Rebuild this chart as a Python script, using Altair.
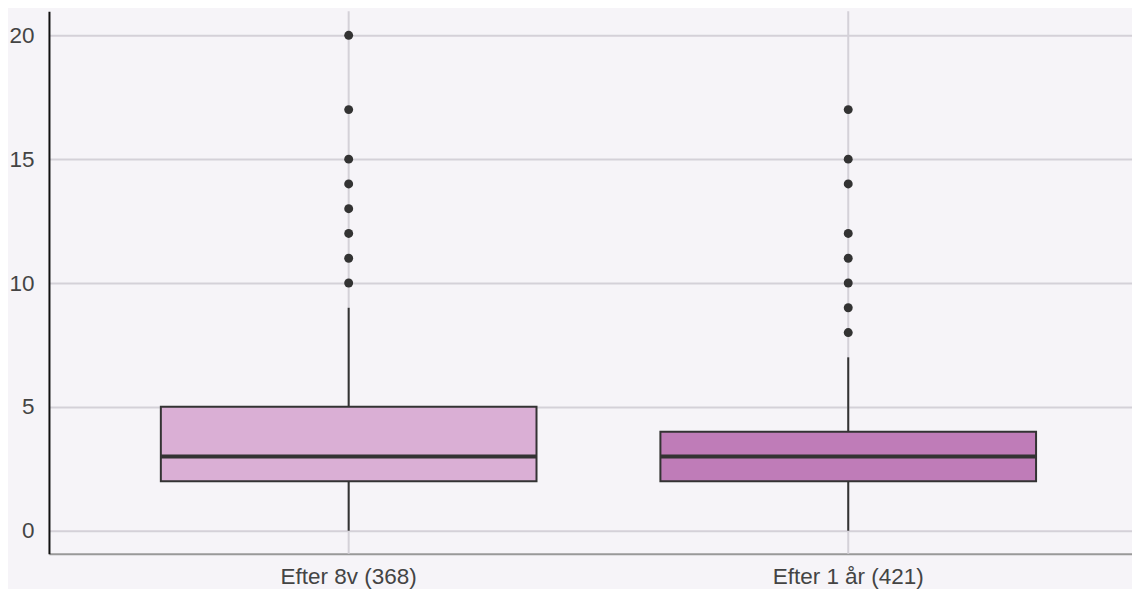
import altair as alt
import pandas as pd

categories = ["Efter 8v (368)", "Efter 1 år (421)"]
fills = ["#daafd5", "#bf7cb8"]
whisker_low = [0, 0]
q1 = [2, 2]
median = [3, 3]
q3 = [5, 4]
whisker_high = [9, 7]
outliers_1 = [10, 11, 12, 13, 14, 15, 17, 20]
outliers_2 = [8, 9, 10, 11, 12, 14, 15, 17]

summary = pd.DataFrame({
    "group": categories,
    "fill": fills,
    "low": whisker_low,
    "q1": q1,
    "median": median,
    "q3": q3,
    "high": whisker_high,
})
outl = pd.DataFrame({
    "group": [categories[0]] * len(outliers_1) + [categories[1]] * len(outliers_2),
    "value": outliers_1 + outliers_2,
})

DARK = "#333333"

xenc = alt.X(
    "group:N",
    sort=categories,
    title=None,
    scale=alt.Scale(paddingInner=0, paddingOuter=0.084, align=0.595),
    axis=alt.Axis(
        labelAngle=0, labelFontSize=22.5, labelColor="#444444", labelFont="Liberation Sans",
        labelPadding=12, ticks=False, tickSize=0, grid=False,
        domainColor="#999999", domainWidth=2,
    ),
)
yscale = alt.Scale(domain=[-0.93, 20.97], nice=False, zero=False)
yaxis = alt.Axis(
    values=[0, 5, 10, 15, 20], labelFontSize=22.5, labelColor="#444444",
    labelFont="Liberation Sans", labelPadding=15, ticks=False, tickSize=0,
    grid=True, gridColor="#d4d1d8", gridWidth=2,
    domainColor="#111111", domainWidth=2, title=None,
)

vgrid = alt.Chart(summary).mark_rule(color="#d4d1d8", strokeWidth=2).encode(x=xenc)

whisk = alt.Chart(summary).mark_rule(color=DARK, strokeWidth=2).encode(
    x=xenc,
    y=alt.Y("low:Q", scale=yscale, axis=yaxis),
    y2="high:Q",
)

box = alt.Chart(summary).mark_bar(size=376, stroke=DARK, strokeWidth=2).encode(
    x=xenc,
    y=alt.Y("q1:Q", scale=yscale, axis=yaxis),
    y2="q3:Q",
    color=alt.Color("fill:N", scale=None, legend=None),
)

med = alt.Chart(summary).mark_tick(size=376, thickness=4, color=DARK, opacity=1).encode(
    x=xenc,
    y=alt.Y("median:Q", scale=yscale, axis=yaxis),
)

pts = alt.Chart(outl).mark_circle(size=80, color=DARK, opacity=1).encode(
    x=xenc,
    y=alt.Y("value:Q", scale=yscale, axis=yaxis),
)

chart = alt.layer(vgrid, whisk, box, med, pts).properties(
    width=1084, height=543,
    padding={"left": 0, "top": 2, "right": 0, "bottom": 0},
    background="#f6f4f8",
).configure_view(stroke=None)

chart.save("out.html", embed_options={"renderer": "svg", "actions": False})
